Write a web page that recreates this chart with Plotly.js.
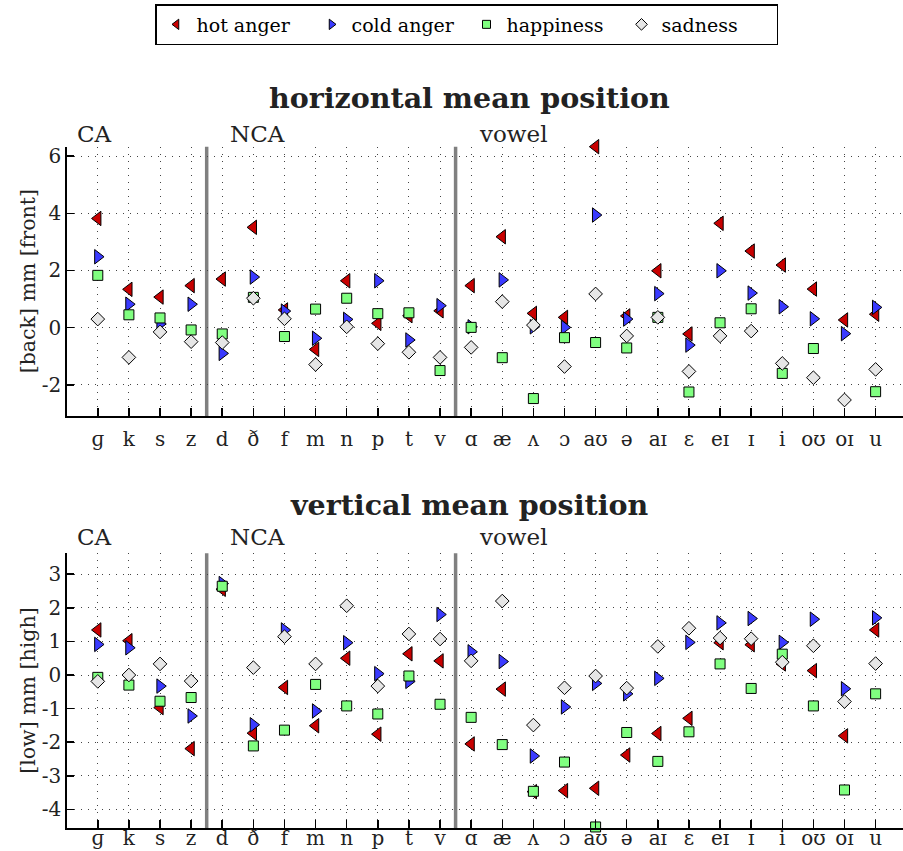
<!DOCTYPE html>
<html>
<head>
<meta charset="utf-8">
<script src="https://cdn.plot.ly/plotly-3.0.1.min.js"></script>
<style>html,body{margin:0;padding:0;background:#fff;}#chart{width:903px;height:851px;}</style>
</head>
<body>
<div id="chart"></div>
<script>
var categories = ['ɡ','k','s','z','d','ð','f','m','n','p','t','v','ɑ','æ','ʌ','ɔ','aʊ','ə','aɪ','ɛ','eɪ','ɪ','i','oʊ','oɪ','u'];
var seriesNames = ['hot anger','cold anger','happiness','sadness'];

// horizontal mean position
var hotH   = [3.82, 1.34, 1.07, 1.47, 1.70, 3.51, 0.62, -0.76, 1.64, 0.15, 0.42, 0.59, 1.47, 3.18, 0.50, 0.36, 6.33, 0.41, 1.99, -0.22, 3.65, 2.68, 2.19, 1.35, 0.27, 0.47];
var coldH  = [2.48, 0.82, 0.13, 0.82, -0.90, 1.77, 0.58, -0.37, 0.29, 1.64, -0.43, 0.77, 0.03, 1.67, 0.03, 0.01, 3.94, 0.30, 1.19, -0.61, 1.99, 1.21, 0.73, 0.31, -0.21, 0.71];
var happyH = [1.83, 0.45, 0.34, -0.08, -0.22, 1.06, -0.31, 0.65, 1.03, 0.49, 0.52, -1.50, 0.01, -1.05, -2.48, -0.35, -0.52, -0.71, 0.36, -2.25, 0.17, 0.66, -1.60, -0.73, null, -2.24];
var sadH   = [0.30, -1.04, -0.15, -0.49, -0.52, 1.03, 0.31, -1.29, 0.03, -0.56, -0.86, -1.04, -0.69, 0.91, 0.09, -1.36, 1.18, -0.29, 0.36, -1.53, -0.29, -0.12, -1.25, -1.75, -2.53, -1.46];

// vertical mean position
var hotV   = [1.34, 1.02, -0.97, -2.19, 2.55, -1.73, -0.37, -1.51, 0.50, -1.76, 0.63, 0.42, -2.05, -0.42, -3.47, -3.44, -3.37, -2.38, -1.74, -1.29, 0.96, 0.90, 0.33, 0.13, -1.81, 1.34];
var coldV  = [0.91, 0.81, -0.33, -1.22, 2.72, -1.48, 1.34, -1.07, 0.96, 0.04, -0.19, 1.80, 0.69, 0.40, -2.41, -0.95, -0.25, -0.56, -0.10, 0.97, 1.55, 1.68, 0.97, 1.66, -0.41, 1.70];
var happyV = [-0.07, -0.30, -0.78, -0.67, 2.64, -2.11, -1.64, -0.28, -0.92, -1.16, -0.03, -0.87, -1.26, -2.07, -3.46, -2.59, -4.52, -1.71, -2.57, -1.69, 0.33, -0.40, 0.62, -0.92, -3.42, -0.56];
var sadV   = [-0.19, 0.00, 0.33, -0.18, 3.63, 0.22, 1.14, 0.33, 2.06, -0.33, 1.22, 1.07, 0.42, 2.20, -1.49, -0.38, -0.03, -0.39, 0.85, 1.39, 1.10, 1.08, 0.38, 0.87, -0.79, 0.34];

var topTicks = [-2, 0, 2, 4, 6];
var botTicks = [-4, -3, -2, -1, 0, 1, 2, 3];
var groupLabels = ['CA', 'NCA', 'vowel'];

var symbols = ['triangle-left', 'triangle-right', 'square', 'diamond'];
var colors = ['#c80000', '#3a3aff', '#80ff80', '#e6e6e6'];
var sizes = [12.5, 12.5, 10, 10.5];
var topSeries = [hotH, coldH, happyH, sadH];
var botSeries = [hotV, coldV, happyV, sadV];

var traces = [];
function addSeries(data, xa, ya) {
  data.forEach(function (vals, i) {
    traces.push({
      type: 'scatter', mode: 'markers', x: categories, y: vals,
      xaxis: xa, yaxis: ya, showlegend: false, cliponaxis: false,
      name: seriesNames[i],
      marker: {symbol: symbols[i], size: sizes[i], color: colors[i], line: {color: '#000', width: 1}}
    });
  });
}
addSeries(topSeries, 'x', 'y');
addSeries(botSeries, 'x2', 'y2');
// legend entries
seriesNames.forEach(function (n, i) {
  traces.push({
    type: 'scatter', mode: 'markers', x: [null], y: [null], xaxis: 'x', yaxis: 'y',
    name: n, showlegend: true,
    marker: {symbol: symbols[i], size: i === 2 ? 8 : 9, color: colors[i], line: {color: '#000', width: 1}}
  });
});

var serif = 'DejaVu Serif';
var W = 903, H = 851;
function py(px) { return 1 - px / H; }

function xax(anchor, standoff) {
  return {
    type: 'category', anchor: anchor, domain: [67.3 / W, 1], range: [-0.98, 25.88],
    showline: true, linecolor: '#000', linewidth: 2,
    ticks: 'inside', ticklen: 8, tickwidth: 1.5, tickcolor: '#000',
    showgrid: true, gridcolor: '#444', griddash: '1px,6px', gridwidth: 1,
    zeroline: false, tickfont: {family: serif, size: 20, color: '#222'},
    ticklabelstandoff: standoff,
    automargin: false, fixedrange: true
  };
}
function yax(anchor, dom, rng, ticks) {
  return {
    anchor: anchor, domain: dom, range: rng,
    tickvals: ticks, ticktext: ticks.map(function (v) { return String(v); }),
    showline: true, linecolor: '#000', linewidth: 2,
    ticks: 'inside', ticklen: 7, tickwidth: 1.5, tickcolor: '#000',
    showgrid: true, gridcolor: '#444', griddash: '1px,6px', gridwidth: 1,
    zeroline: false, tickfont: {family: serif, size: 20, color: '#222'},
    automargin: false, fixedrange: true
  };
}

var topDom = [py(416), py(146.7)];
var botDom = [py(828.3), py(553.3)];

var shapes = [];
[['x', 'y'], ['x2', 'y2']].forEach(function (p) {
  [3.5, 11.5].forEach(function (xv) {
    shapes.push({type: 'line', xref: p[0], yref: p[1] + ' domain', x0: xv, x1: xv, y0: 0, y1: 1,
      line: {color: '#808080', width: 3.5}, layer: 'below'});
  });
});

var titleFont = {family: serif, size: 28.5, color: '#222'};
var axTitleFont = {family: serif, size: 20.5, color: '#222'};
var groupFont = {family: serif, size: 23, color: '#222'};
var annotations = [
  {text: '<b>horizontal mean position</b>', xref: 'paper', yref: 'paper', x: 469 / W, y: py(98), xanchor: 'center', yanchor: 'middle', showarrow: false, font: titleFont},
  {text: '<b>vertical mean position</b>', xref: 'paper', yref: 'paper', x: 469 / W, y: py(505), xanchor: 'center', yanchor: 'middle', showarrow: false, font: titleFont},
  {text: '[back] mm [front]', xref: 'paper', yref: 'y domain', x: 28 / W, y: 0.5, xanchor: 'center', yanchor: 'middle', textangle: -90, showarrow: false, font: axTitleFont},
  {text: '[low] mm [high]', xref: 'paper', yref: 'y2 domain', x: 28 / W, y: 0.5, xanchor: 'center', yanchor: 'middle', textangle: -90, showarrow: false, font: axTitleFont}
];
var groupX = [-0.72, 4.2, 12.2];
groupLabels.forEach(function (g, i) {
  annotations.push({text: g, xref: 'x', yref: 'paper', x: groupX[i], y: py(134), xanchor: 'left', yanchor: 'middle', showarrow: false, font: groupFont});
  annotations.push({text: g, xref: 'x2', yref: 'paper', x: groupX[i], y: py(537), xanchor: 'left', yanchor: 'middle', showarrow: false, font: groupFont});
});

var layout = {
  width: W, height: H,
  margin: {l: 0, r: 0, t: 0, b: 0, pad: 0},
  font: {family: serif, color: '#222'},
  paper_bgcolor: '#fff', plot_bgcolor: '#fff',
  showlegend: true,
  legend: {
    orientation: 'h', x: 155 / W, y: py(4), xanchor: 'left', yanchor: 'top',
    bordercolor: '#000', borderwidth: 1.5, bgcolor: '#fff',
    font: {family: serif, size: 19, color: '#000'},
    entrywidth: 110, entrywidthmode: 'pixels', itemclick: false, itemdoubleclick: false
  },
  xaxis: xax('y', 4), yaxis: yax('x', topDom, [-3.09, 6.33], topTicks),
  xaxis2: xax('y2', -9), yaxis2: yax('x2', botDom, [-4.56, 3.62], botTicks),
  shapes: shapes, annotations: annotations
};

Plotly.newPlot('chart', traces, layout, {displayModeBar: false, staticPlot: true});
</script>
</body>
</html>
